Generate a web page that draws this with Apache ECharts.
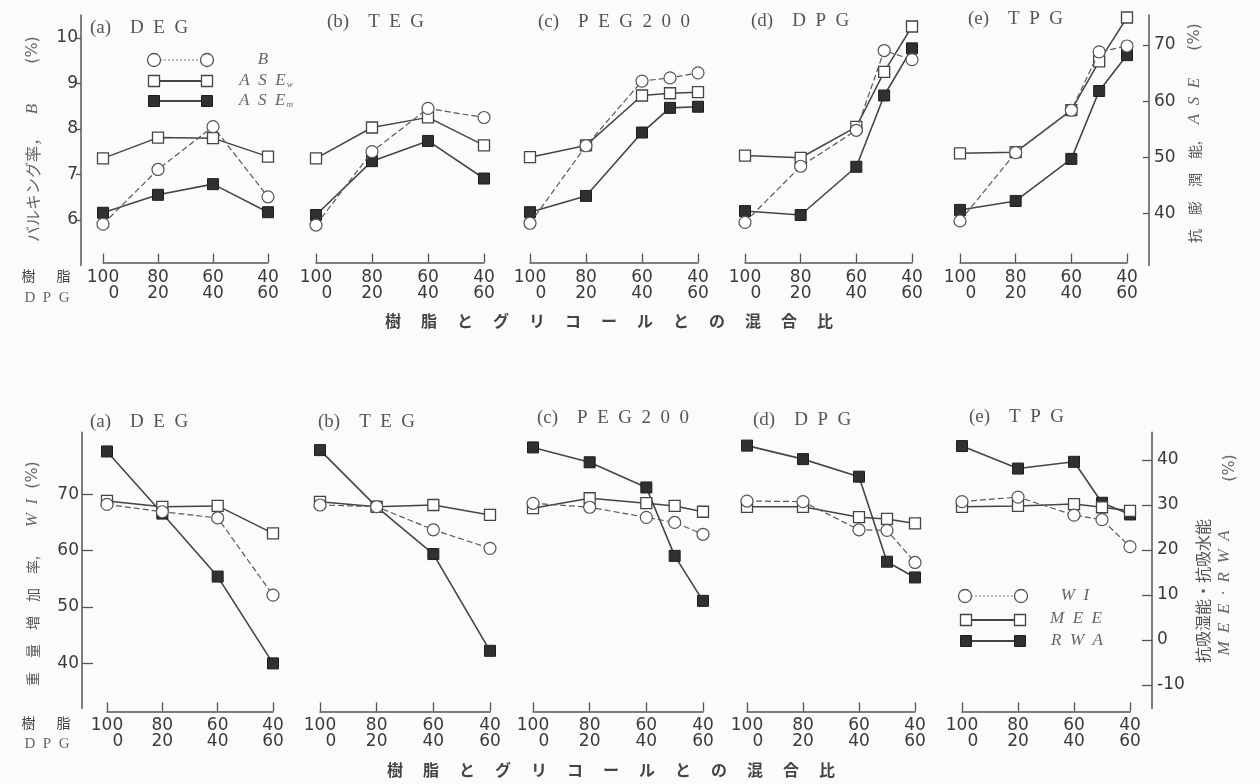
<!DOCTYPE html>
<html><head><meta charset="utf-8">
<script src="https://cdn.jsdelivr.net/npm/echarts@6/dist/echarts.min.js"></script>
<style>html,body{margin:0;padding:0;background:#fbfbf9;}#c{width:1260px;height:784px;}</style>
</head><body><div id="c"></div>
<script>
// ---------- data ----------
const resinRatio4 = [100, 80, 60, 40];
const resinRatio5 = [100, 80, 60, 50, 40];
const xTickValues = [100, 80, 60, 40];
const panelLetters = ['(a)', '(b)', '(c)', '(d)', '(e)'];
const glycolNames = ['DEG', 'TEG', 'PEG200', 'DPG', 'TPG'];

// upper row: bulking B (%) left axis, ASE (%) right axis
const B_DEG = [5.91, 7.11, 8.05, 6.51];
const B_TEG = [5.89, 7.50, 8.45, 8.25];
const B_PEG = [5.93, 7.63, 9.05, 9.12, 9.23];
const B_DPG = [5.95, 7.18, 7.97, 9.72, 9.52];
const B_TPG = [5.98, 7.48, 8.41, 9.69, 9.82];

const ASEw_DEG = [49.8, 53.5, 53.4, 50.1];
const ASEw_TEG = [49.8, 55.3, 57.1, 52.1];
const ASEw_PEG = [50.0, 52.1, 61.0, 61.4, 61.6];
const ASEw_DPG = [50.3, 49.9, 55.4, 65.2, 73.3];
const ASEw_TPG = [50.7, 50.9, 58.4, 67.1, 74.9];

const ASEm_DEG = [40.1, 43.3, 45.2, 40.2];
const ASEm_TEG = [39.7, 49.3, 52.9, 46.2];
const ASEm_PEG = [40.2, 43.1, 54.4, 58.8, 59.0];
const ASEm_DPG = [40.4, 39.7, 48.3, 61.0, 69.4];
const ASEm_TPG = [40.6, 42.2, 49.7, 61.8, 68.2];

// lower row: WI (%) left axis, MEE / RWA (%) right axis
const WI_DEG = [68.2, 66.9, 65.8, 52.1];
const WI_TEG = [68.1, 67.8, 63.7, 60.4];
const WI_PEG = [68.4, 67.7, 65.9, 65.0, 62.9];
const WI_DPG = [68.8, 68.7, 63.7, 63.6, 57.9];
const WI_TPG = [68.7, 69.5, 66.3, 65.5, 60.7];

const MEE_DEG = [30.9, 29.6, 29.8, 23.7];
const MEE_TEG = [30.7, 29.6, 30.0, 27.8];
const MEE_PEG = [29.3, 31.5, 30.4, 29.8, 28.5];
const MEE_DPG = [29.6, 29.6, 27.3, 26.9, 25.9];
const MEE_TPG = [29.6, 29.8, 30.2, 29.5, 28.7];

const RWA_DEG = [41.9, 28.1, 14.1, -5.2];
const RWA_TEG = [42.2, 29.6, 19.1, -2.4];
const RWA_PEG = [42.8, 39.5, 33.9, 18.7, 8.7];
const RWA_DPG = [43.2, 40.2, 36.3, 17.4, 13.9];
const RWA_TPG = [43.1, 38.1, 39.6, 30.5, 27.9];

const leftTicksB = [6, 7, 8, 9, 10];
const rightTicksASE = [40, 50, 60, 70];
const leftTicksWI = [40, 50, 60, 70];
const rightTicksMEE = [-10, 0, 10, 20, 30, 40];

const upperPanels = [
  {x: resinRatio4, a: B_DEG, b: ASEw_DEG, c: ASEm_DEG},
  {x: resinRatio4, a: B_TEG, b: ASEw_TEG, c: ASEm_TEG},
  {x: resinRatio5, a: B_PEG, b: ASEw_PEG, c: ASEm_PEG},
  {x: resinRatio5, a: B_DPG, b: ASEw_DPG, c: ASEm_DPG},
  {x: resinRatio5, a: B_TPG, b: ASEw_TPG, c: ASEm_TPG}
];
const lowerPanels = [
  {x: resinRatio4, a: WI_DEG, b: MEE_DEG, c: RWA_DEG},
  {x: resinRatio4, a: WI_TEG, b: MEE_TEG, c: RWA_TEG},
  {x: resinRatio5, a: WI_PEG, b: MEE_PEG, c: RWA_PEG},
  {x: resinRatio5, a: WI_DPG, b: MEE_DPG, c: RWA_DPG},
  {x: resinRatio5, a: WI_TPG, b: MEE_TPG, c: RWA_TPG}
];

// ---------- layout ----------
const TOP_X = [[103, 268], [316, 484], [530, 698], [745, 912], [960, 1127]];
const BOT_X = [[107, 273], [320, 490], [533, 703], [747, 915], [962, 1130]];
const ROWS = [
  {top: 15, height: 250.6, lmin: 5, lmax: 10.5, rmin: 30.68, rmax: 75.35, xOff: -3, xMargin: 7,
   lTicks: leftTicksB, rTicks: rightTicksASE, lOff: 22, lTickLen: 5, lInside: false, rOff: 22, rTickLen: 6},
  {top: 432.3, height: 276.1, lmin: 32, lmax: 81, rmin: -15.2, rmax: 46.16, xOff: 3, xMargin: 6,
   lTicks: leftTicksWI, rTicks: rightTicksMEE, lOff: 25, lTickLen: 11, lInside: true, rOff: 22, rTickLen: 10}
];

const INK = '#454545';
const NUM_FONT = 'DejaVu Sans';
const SERIF = 'Liberation Serif';
const JP = 'Noto Sans CJK JP';

function xLabel(v) {
  const lower = 100 - v;
  return v === 100 ? '100\n\u2007\u2007' + lower : v + '\n' + lower;
}

const grids = [], xAxes = [], yAxes = [], series = [];

function addRow(r, xs, panels) {
  const R = ROWS[r];
  panels.forEach((p, i) => {
    const g = grids.length;
    grids.push({left: xs[i][0], width: xs[i][1] - xs[i][0], top: R.top, height: R.height});
    xAxes.push({
      gridIndex: g, type: 'value', min: 40, max: 100, interval: 20, inverse: true, offset: R.xOff,
      axisLine: {show: true, onZero: false, lineStyle: {color: '#555', width: 1.5}},
      axisTick: {show: true, inside: true, length: 9, lineStyle: {color: '#555', width: 1.3}},
      axisLabel: {margin: R.xMargin, fontFamily: NUM_FONT, fontSize: 17, color: '#3a3a3a', lineHeight: 16, formatter: xLabel},
      splitLine: {show: false}
    });
    const yl = yAxes.length;
    yAxes.push({
      gridIndex: g, type: 'value', position: 'left', min: R.lmin, max: R.lmax, show: i === 0, offset: R.lOff,
      axisLine: {show: true, lineStyle: {color: '#555', width: 1.5}},
      axisTick: {show: true, inside: R.lInside, length: R.lTickLen, customValues: R.lTicks, lineStyle: {color: '#555', width: 1.3}},
      axisLabel: {margin: 3, fontFamily: NUM_FONT, fontSize: 17, color: '#3a3a3a', customValues: R.lTicks},
      splitLine: {show: false}
    });
    yAxes.push({
      gridIndex: g, type: 'value', position: 'right', min: R.rmin, max: R.rmax, show: i === 4, offset: R.rOff,
      axisLine: {show: true, lineStyle: {color: '#555', width: 1.5}},
      axisTick: {show: true, inside: true, length: R.rTickLen, customValues: R.rTicks, lineStyle: {color: '#555', width: 1.3}},
      axisLabel: {margin: 5, fontFamily: NUM_FONT, fontSize: 17, color: '#3a3a3a', customValues: R.rTicks},
      splitLine: {show: false}
    });
    const pts = (vals) => p.x.map((x, k) => [x, vals[k]]);
    series.push({
      type: 'line', xAxisIndex: g, yAxisIndex: yl + 1, data: pts(p.c), z: 2,
      symbol: 'rect', symbolSize: 11, showSymbol: true, animation: false, silent: true,
      itemStyle: {color: '#303030', borderColor: '#1e1e1e', borderWidth: 1},
      lineStyle: {color: INK, width: 1.6}
    });
    series.push({
      type: 'line', xAxisIndex: g, yAxisIndex: yl + 1, data: pts(p.b), z: 3,
      symbol: 'rect', symbolSize: 11, showSymbol: true, animation: false, silent: true,
      itemStyle: {color: '#fff', borderColor: '#444', borderWidth: 1.3},
      lineStyle: {color: INK, width: 1.5}
    });
    series.push({
      type: 'line', xAxisIndex: g, yAxisIndex: yl, data: pts(p.a), z: 4,
      symbol: 'circle', symbolSize: 12, showSymbol: true, animation: false, silent: true,
      itemStyle: {color: '#fff', borderColor: '#555', borderWidth: 1.2},
      lineStyle: {color: '#5a5a5a', width: 1.2, type: [6, 3]}
    });
  });
}
addRow(0, TOP_X, upperPanels);
addRow(1, BOT_X, lowerPanels);

// ---------- texts & legends ----------
const graphics = [];
function txt(x, y, text, o) {
  o = o || {};
  graphics.push({
    type: 'text', x: x, y: y, rotation: o.rot || 0, silent: true, z: 100,
    style: {
      text: text, fill: o.fill || '#555', fontSize: o.size || 15, fontFamily: o.family || JP,
      fontStyle: o.style || 'normal', fontWeight: o.weight || 'normal',
      align: o.align || 'center', verticalAlign: 'middle', rich: o.rich
    }
  });
}
const spaced = (s) => s.split('').join('\u2002');

const topTitlePos = [[90, 28], [327, 22], [538, 22], [751, 21], [968, 19]];
const botTitlePos = [[90, 422], [318, 422], [537, 418], [753, 420], [969, 417]];
glycolNames.forEach((n, i) => {
  const t = panelLetters[i] + '\u2003' + spaced(n);
  txt(topTitlePos[i][0], topTitlePos[i][1], t, {family: SERIF, size: 19, align: 'left', fill: '#555'});
  txt(botTitlePos[i][0], botTitlePos[i][1], t, {family: SERIF, size: 19, align: 'left', fill: '#555'});
});

// row labels next to x tick labels
[[276, 298], [723, 744]].forEach(([y1, y2]) => {
  txt(46, y1, '樹\u3000\u2002脂', {size: 14, fill: '#444'});
  txt(47, y2, spaced('DPG'), {family: SERIF, size: 15, fill: '#666'});
});

// common x title
const mixTitle = '樹脂とグリコールとの混合比'.split('').join('\u3000\u2005');
txt(609, 321, mixTitle, {size: 16, weight: 'bold', fill: '#444'});
txt(611, 770, mixTitle, {size: 16, weight: 'bold', fill: '#444'});

const ROT = Math.PI / 2;
// upper-left y title
txt(33, 186, 'バルキング率，', {rot: ROT, size: 16, fill: '#666'});
txt(33, 109, 'B', {rot: ROT, size: 17, family: SERIF, style: 'italic', fill: '#666'});
txt(33, 50, '(%)', {rot: ROT, size: 16, family: NUM_FONT, fill: '#666'});
// upper-right y title
txt(1195, 192, '抗\u3000膨\u3000潤\u3000能,', {rot: ROT, size: 14, fill: '#555'});
txt(1195, 101, spaced('ASE'), {rot: ROT, size: 17, family: SERIF, style: 'italic', fill: '#666'});
txt(1195, 37, '(%)', {rot: ROT, size: 16, family: NUM_FONT, fill: '#666'});
// lower-left y title
txt(33, 621, '重\u3000量\u3000増\u3000加\u3000率,', {rot: ROT, size: 14, fill: '#555'});
txt(33, 513, spaced('WI'), {rot: ROT, size: 17, family: SERIF, style: 'italic', fill: '#666'});
txt(33, 475, '(%)', {rot: ROT, size: 16, family: NUM_FONT, fill: '#666'});
// lower-right y title
txt(1203, 591, '抗吸湿能・抗吸水能', {rot: ROT, size: 16, fill: '#555'});
txt(1225, 593, 'M\u2002E\u2002E\u2002·\u2002R\u2002W\u2002A', {rot: ROT, size: 17, family: SERIF, style: 'italic', fill: '#666'});
txt(1230, 468, '(%)', {rot: ROT, size: 16, family: NUM_FONT, fill: '#666'});

// legends
function legendRow(x1, x2, y, kind) {
  if (kind === 'circle') {
    graphics.push({type: 'line', silent: true, z: 99, shape: {x1: x1 + 6, y1: y, x2: x2 - 6, y2: y},
      style: {stroke: '#777', lineWidth: 1, lineDash: [2, 2]}});
    [x1, x2].forEach(cx => graphics.push({type: 'circle', silent: true, z: 100, shape: {cx: cx, cy: y, r: 6.5},
      style: {fill: '#fff', stroke: '#555', lineWidth: 1.3}}));
  } else {
    graphics.push({type: 'line', silent: true, z: 99, shape: {x1: x1 + 5, y1: y, x2: x2 - 5, y2: y},
      style: {stroke: '#444', lineWidth: 2}});
    [x1, x2].forEach(cx => graphics.push({type: 'rect', silent: true, z: 100, shape: {x: cx - 5.5, y: y - 5.5, width: 11, height: 11},
      style: kind === 'open' ? {fill: '#fff', stroke: '#444', lineWidth: 1.3} : {fill: '#303030', stroke: '#1e1e1e', lineWidth: 1}}));
  }
}
const legItalic = {family: SERIF, style: 'italic', size: 17, fill: '#666'};
legendRow(154, 207, 60, 'circle');
legendRow(154, 207, 81, 'open');
legendRow(154, 207, 101, 'fill');
txt(263, 60, 'B', legItalic);
const subRich = {
  a: {fontFamily: SERIF, fontStyle: 'italic', fontSize: 17, fill: '#666'},
  s: {fontFamily: SERIF, fontStyle: 'italic', fontSize: 9, fill: '#666', verticalAlign: 'bottom', padding: [6, 0, 0, 1]}
};
txt(266, 81, '{a|' + spaced('ASE') + '}{s|w}', {rich: subRich});
txt(266, 101, '{a|' + spaced('ASE') + '}{s|m}', {rich: subRich});

legendRow(965, 1021, 596, 'circle');
legendRow(966, 1020, 620, 'open');
legendRow(966, 1020, 641, 'fill');
txt(1075, 596, spaced('WI'), legItalic);
txt(1076, 619, spaced('MEE'), legItalic);
txt(1077, 641, spaced('RWA'), legItalic);

const chart = echarts.init(document.getElementById('c'), null, {renderer: 'canvas'});
chart.setOption({
  backgroundColor: '#fbfbf9',
  animation: false,
  grid: grids, xAxis: xAxes, yAxis: yAxes, series: series, graphic: graphics
});
</script></body></html>
